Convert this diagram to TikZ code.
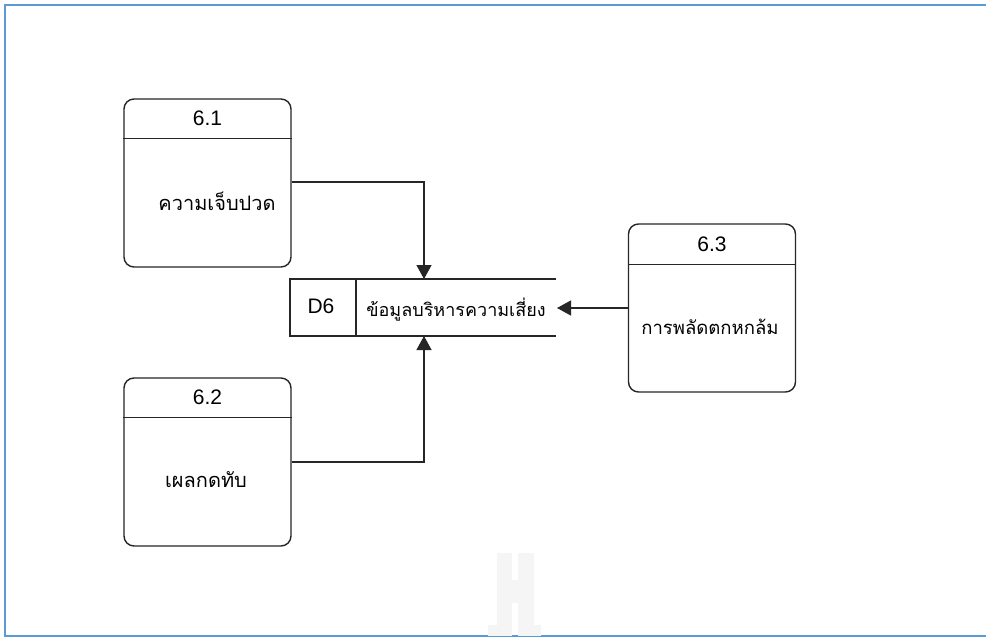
\documentclass[tikz,border=0pt]{standalone}
\usepackage{fontspec}
\setmainfont{Liberation Sans}
\newfontfamily\thaifont[Script=Thai]{Loma}
\usetikzlibrary{arrows.meta,calc}
\definecolor{framecol}{HTML}{5B9BD5}
\definecolor{wmark}{HTML}{F5F5F5}
\tikzset{
  proc/.style={draw=black!85, line width=1.4pt, rounded corners=10pt, minimum width=167pt, minimum height=168pt, inner sep=0pt},
  numtext/.style={font=\fontsize{21}{24}\selectfont, inner sep=0pt},
  thtext/.style={font=\thaifont\fontsize{20}{23}\selectfont, inner sep=0pt},
  thsmall/.style={font=\thaifont\fontsize{18.5}{22}\selectfont, inner sep=0pt},
  flow/.style={draw=black!85, line width=1.3pt, -{Triangle[length=14pt,width=15pt]}},
  storeline/.style={draw=black!85, line width=1.3pt}
}
\begin{document}
\begin{tikzpicture}[x=1pt,y=-1pt]
\useasboundingbox (0,0) rectangle (986,637);
\fill[white] (0,0) rectangle (986,637);
% frame
\draw[framecol, line width=2pt] (986,5) -- (5,5) -- (5,636) -- (986,636);
% watermark
\fill[wmark] (497,553) rectangle (512,636);
\fill[wmark] (518,553) rectangle (534,636);
\fill[wmark] (512,580) rectangle (518,603);
\fill[wmark] (488,625) rectangle (497,636);
\fill[wmark] (534,625) rectangle (541,636);
% process 6.1
\node[proc] (p1) at (207.5,183) {};
\draw[storeline] ($(p1.north west)+(0,40)$) coordinate (p1a) -- ($(p1.north east)+(0,40)$) coordinate (p1b);
\node[numtext] (p1n) at (207.5,118) {6.1};
\node[thtext] (p1t) at (217,201) {ความเจ็บปวด};
% process 6.2
\node[proc] (p2) at (207.5,462) {};
\draw[storeline] ($(p2.north west)+(0,40)$) coordinate (p2a) -- ($(p2.north east)+(0,40)$) coordinate (p2b);
\node[numtext] (p2n) at (207.5,397) {6.2};
\node[thtext] (p2t) at (206,480) {เผลกดทับ};
% process 6.3
\node[proc] (p3) at (712,308) {};
\draw[storeline] ($(p3.north west)+(0,41)$) coordinate (p3a) -- ($(p3.north east)+(0,41)$) coordinate (p3b);
\node[numtext] (p3n) at (712,244) {6.3};
\node[thsmall] (p3t) at (710,327) {การพลัดตกหกล้ม};
% data store
\coordinate (dsTL) at (290,279);
\coordinate (dsBL) at (290,336);
\coordinate (dsTR) at (556,279);
\coordinate (dsBR) at (556,336);
\coordinate (dsM1) at (356,279);
\coordinate (dsM2) at (356,336);
\draw[storeline] (dsTR) -- (dsTL) -- (dsBL) -- (dsBR);
\draw[storeline] (dsM1) -- (dsM2);
\node[numtext] (dsid) at (321,306) {D6};
\node[thtext, font=\thaifont\fontsize{18}{21}\selectfont] (dsname) at (456,310) {ข้อมูลบริหารความเสี่ยง};
\coordinate (dsIn1) at (424,279);
\coordinate (dsIn2) at (424,336);
\coordinate (dsIn3) at (557,308);
% flows
\draw[flow] (p1.east |- 0,182) -| (dsIn1);
\draw[flow] (p2.east |- 0,462) -| (dsIn2);
\draw[flow] (p3.west |- 0,308) -- (dsIn3);
\end{tikzpicture}
\end{document}
